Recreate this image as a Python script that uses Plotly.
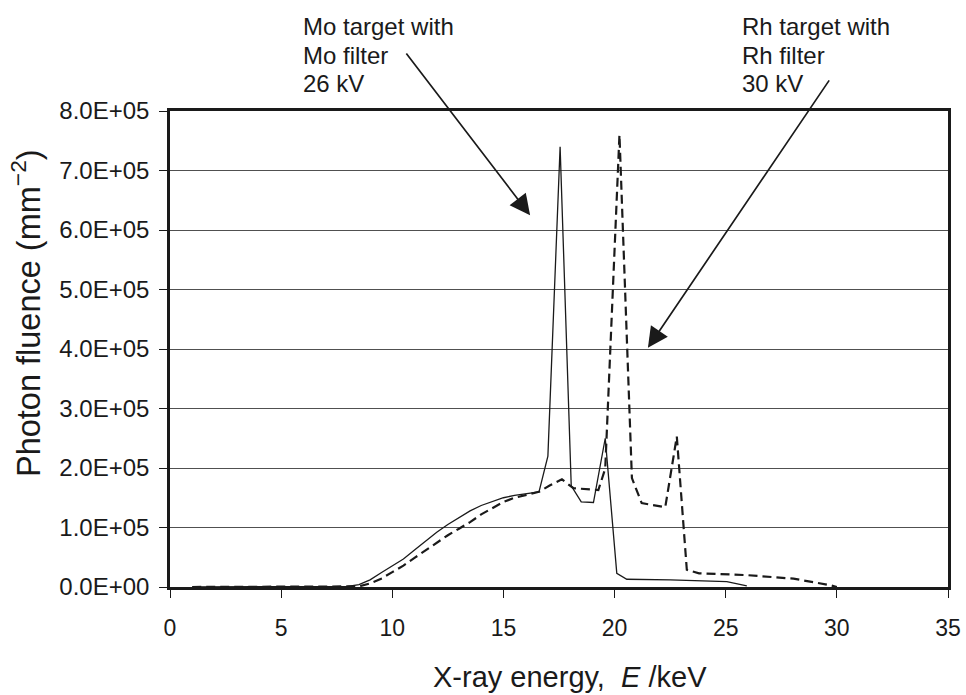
import plotly.graph_objects as go

# ---- data ----
mo_energy = [1, 7.5, 8, 8.5, 9, 9.5, 10, 10.5, 11, 11.5, 12, 12.5, 13, 13.5, 14, 14.5,
             15, 15.5, 16, 16.6, 17.0, 17.55, 18.05, 18.5, 19.05, 19.58, 20.1, 20.55,
             22.5, 25.05, 25.95]
mo_fluence = [0, 0, 0.01e5, 0.04e5, 0.12e5, 0.24e5, 0.35e5, 0.47e5, 0.62e5, 0.77e5,
              0.92e5, 1.05e5, 1.17e5, 1.28e5, 1.37e5, 1.44e5, 1.50e5, 1.54e5, 1.57e5,
              1.60e5, 2.20e5, 7.40e5, 1.70e5, 1.43e5, 1.42e5, 2.50e5, 0.23e5, 0.13e5,
              0.12e5, 0.09e5, 0.02e5]

rh_energy = [1, 8, 8.5, 9, 9.5, 10, 10.5, 11, 11.5, 12, 12.5, 13, 13.5, 14, 14.5, 15,
             15.5, 16, 16.6, 17.1, 17.63, 18.15, 18.7, 19.27, 19.58, 20.22, 20.78,
             21.22, 22.28, 22.8, 23.25, 23.8, 25.95, 27.45, 28.05, 29.7, 30]
rh_fluence = [0, 0, 0.01e5, 0.06e5, 0.14e5, 0.25e5, 0.36e5, 0.49e5, 0.62e5, 0.75e5,
              0.87e5, 0.98e5, 1.09e5, 1.22e5, 1.33e5, 1.43e5, 1.50e5, 1.55e5, 1.60e5,
              1.71e5, 1.81e5, 1.66e5, 1.64e5, 1.63e5, 1.99e5, 7.60e5, 1.83e5, 1.41e5,
              1.34e5, 2.53e5, 0.29e5, 0.23e5, 0.20e5, 0.15e5, 0.14e5, 0.03e5, 0]

y_tickvals = [0, 1e5, 2e5, 3e5, 4e5, 5e5, 6e5, 7e5, 8e5]
y_ticktext = ["0.0E+00", "1.0E+05", "2.0E+05", "3.0E+05", "4.0E+05",
              "5.0E+05", "6.0E+05", "7.0E+05", "8.0E+05"]
x_tickvals = [0, 5, 10, 15, 20, 25, 30, 35]

mo_label_lines = ["Mo target with", "Mo filter", "26 kV"]
rh_label_lines = ["Rh target with", "Rh filter", "30 kV"]

FONT = "Liberation Sans, Arial, Helvetica, sans-serif"
INK = "#1a1a1a"

# plot area in pixels: x 170..948, y 111..587
def py_to_paper(py):
    return (587 - py) / 476.0

def px_to_paper(px):
    return (px - 170) / 778.0

fig = go.Figure()
fig.add_trace(go.Scatter(x=mo_energy, y=mo_fluence, mode="lines",
                         line=dict(color=INK, width=1.3), showlegend=False))
fig.add_trace(go.Scatter(x=rh_energy, y=rh_fluence, mode="lines",
                         line=dict(color=INK, width=2.2, dash="9px,5px"),
                         showlegend=False))

fig.update_layout(
    width=966, height=695,
    margin=dict(l=170, r=18, t=111, b=108, autoexpand=False),
    paper_bgcolor="white", plot_bgcolor="white",
    font=dict(family=FONT, color=INK),
    xaxis=dict(range=[0, 35], tickvals=x_tickvals, ticks="outside", ticklen=8,
               tickwidth=1.2, tickcolor=INK, showline=True, linewidth=2.5,
               linecolor=INK, mirror=True, showgrid=False, zeroline=False,
               tickfont=dict(size=23, family=FONT, color=INK),
               ticklabelstandoff=11),
    yaxis=dict(range=[0, 8e5], tickvals=y_tickvals, ticktext=y_ticktext,
               ticks="outside", ticklen=8, tickwidth=1.2, tickcolor=INK,
               showline=True, linewidth=2.5, linecolor=INK, mirror=True,
               showgrid=True, gridcolor="#505050", gridwidth=1.2,
               zeroline=False, tickfont=dict(size=24, family=FONT, color=INK),
               ticklabelstandoff=5),
)

annotations = []
line_centers = [27, 56, 83]
for lines, left in ((mo_label_lines, 301), (rh_label_lines, 740)):
    for txt, cy in zip(lines, line_centers):
        annotations.append(dict(
            text=txt, xref="paper", yref="paper", x=px_to_paper(left),
            y=py_to_paper(cy), xanchor="left", yanchor="middle", align="left",
            showarrow=False, font=dict(size=24, family=FONT, color=INK)))

annotations += [
    # arrows
    dict(x=16.2, y=6.25e5, xref="x", yref="y", ax=10.58, ay=8.99e5,
         axref="x", ayref="y", text="", showarrow=True, arrowhead=2,
         arrowsize=2.4, arrowwidth=1.7, arrowcolor=INK),
    dict(x=21.5, y=4.02e5, xref="x", yref="y", ax=29.7, ay=8.54e5,
         axref="x", ayref="y", text="", showarrow=True, arrowhead=2,
         arrowsize=2.4, arrowwidth=1.7, arrowcolor=INK),
    # axis titles
    dict(text="Photon fluence (mm<sup>\u22122</sup>)", xref="paper", yref="paper",
         x=px_to_paper(26), y=py_to_paper(313), xanchor="center", yanchor="middle",
         textangle=-90, showarrow=False, font=dict(size=32.5, family=FONT, color=INK)),
    dict(text="X-ray energy,  <i>E</i> /keV", xref="paper", yref="paper",
         x=px_to_paper(570), y=py_to_paper(677), xanchor="center", yanchor="middle",
         showarrow=False, font=dict(size=29, family=FONT, color=INK)),
]
fig.update_layout(annotations=annotations)

fig.write_html("out.html", config={"displayModeBar": False},
               post_script="document.body.style.margin='0';document.body.style.padding='0';")
